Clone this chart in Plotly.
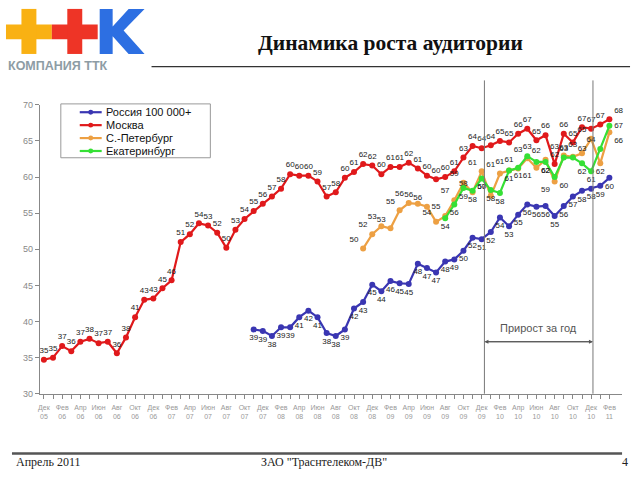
import plotly.graph_objects as go

# ---------------- data ----------------
month_names = ["Янв", "Фев", "Мар", "Апр", "Май", "Июн", "Июл", "Авг", "Сен", "Окт", "Ноя", "Дек"]
start_month = 11   # December (0-based)
start_year = 2005
n_months = 63      # Dec 05 .. Feb 11

moscow = [34.7, 35.0, 36.6, 35.9, 37.2, 37.6, 37.0, 37.2, 35.6, 37.8,
          40.6, 43.0, 43.2, 44.6, 45.7, 51.0, 52.1, 53.6, 53.3, 52.3,
          50.2, 52.7, 54.2, 55.3, 56.3, 57.3, 58.4, 60.4, 60.2, 60.2,
          59.4, 57.3, 57.9, 59.9, 60.7, 61.8, 61.6, 60.4, 61.4, 61.4,
          62.0, 61.2, 60.2, 59.7, 60.0, 60.8, 62.7, 64.3, 64.0, 64.4,
          65.0, 64.8, 66.0, 66.7, 65.1, 65.8, 61.8, 66.0, 64.8, 66.9,
          66.7, 67.3, 68.0]

russia_start = 23
russia = [38.9, 38.7, 38.0, 39.2, 39.2, 40.6, 41.5, 40.6, 38.4, 38.0,
          38.9, 41.8, 42.7, 45.1, 44.2, 45.6, 45.3, 45.2, 48.0, 47.4,
          46.8, 48.3, 48.6, 49.8, 51.6, 51.4, 52.4, 54.4, 53.2, 54.8,
          56.2, 55.9, 56.0, 54.6, 56.0, 57.3, 58.1, 58.4, 58.8, 59.9]

spb_start = 35
spb = [50.1, 52.1, 53.2, 52.9, 55.4, 56.4, 56.3, 55.9, 53.8, 54.6,
       56.8, 59.2, 57.9, 60.8, 57.4, 60.5, 60.9, 61.2, 62.6, 61.3,
       62.4, 59.4, 63.0, 62.8, 63.3, 65.3, 61.9, 66.2]

ekb_start = 44
ekb = [54.3, 56.2, 58.5, 58.1, 59.8, 58.2, 57.8, 60.9, 61.3, 62.9,
       62.1, 62.1, 60.0, 62.7, 62.7, 61.9, 60.8, 63.9, 67.1]

series_names = ["Россия 100 000+", "Москва", "С.-Петербург", "Екатеринбург"]
series_colors = ["#3a36b2", "#e0191b", "#eda043", "#35e035"]

year_marks = [48.3, 60.2]   # vertical "year" lines (month index)
year_label = "Прирост за год"

# ---------------- helpers ----------------
W, H = 640, 480
def px(x):
    return x / W
def py(y):
    return 1 - y / H

month_idx = list(range(n_months))
tick_text = []
for i in month_idx:
    m = (start_month + i) % 12
    yr = start_year + (start_month + i) // 12
    if i % 2 == 0:
        tick_text.append(f"{month_names[m]}<br>{yr % 100:02d}")
    else:
        tick_text.append("")

fig = go.Figure()

def add_series(name, color, start, vals, pos):
    xs = list(range(start, start + len(vals)))
    fig.add_trace(go.Scatter(
        x=xs, y=vals, mode="lines+markers+text", name=name,
        line=dict(color=color, width=2.2),
        marker=dict(color=color, size=6),
        text=vals, texttemplate="%{y:.0f}", textposition=pos,
        textfont=dict(family="Liberation Sans", size=8, color="#222"),
        cliponaxis=False, showlegend=False))

def positions(start, vals, default, special):
    return [special.get(start + i, default) for i in range(len(vals))]

msk_pos = positions(0, moscow, "top center", {62: "top right"})
spb_pos = positions(spb_start, spb, "top left",
                    {54: "bottom left", 56: "bottom left", 61: "bottom center", 62: "bottom right"})
ekb_pos = positions(ekb_start, ekb, "bottom center",
                    {53: "top center", 54: "bottom right", 56: "bottom right", 57: "top center",
                     58: "top right", 61: "top left", 62: "middle right"})

add_series(series_names[1], series_colors[1], 0, moscow, msk_pos)
add_series(series_names[2], series_colors[2], spb_start, spb, spb_pos)
add_series(series_names[3], series_colors[3], ekb_start, ekb, ekb_pos)
add_series(series_names[0], series_colors[0], russia_start, russia, "bottom center")

shapes = []
annotations = []

# year lines
for xm in year_marks:
    shapes.append(dict(type="line", xref="x", yref="paper", x0=xm, x1=xm,
                       y0=py(397), y1=py(77), line=dict(color="#777", width=1)))
arrow_y = 37.2
annotations.append(dict(x=year_marks[1], y=arrow_y, ax=year_marks[0], ay=arrow_y,
                        xref="x", yref="y", axref="x", ayref="y", text="",
                        showarrow=True, arrowhead=2, arrowsize=0.8, arrowwidth=1, arrowcolor="#555"))
annotations.append(dict(x=year_marks[0], y=arrow_y, ax=year_marks[1], ay=arrow_y,
                        xref="x", yref="y", axref="x", ayref="y", text="",
                        showarrow=True, arrowhead=2, arrowsize=0.8, arrowwidth=1, arrowcolor="#555"))
annotations.append(dict(x=(year_marks[0] + year_marks[1]) / 2, y=arrow_y + 1.9, xref="x", yref="y",
                        text=year_label, showarrow=False,
                        font=dict(family="Liberation Sans", size=11, color="#555")))

# custom legend
shapes.append(dict(type="rect", xref="paper", yref="paper", x0=px(59), x1=px(209), y0=py(156), y1=py(101),
                   line=dict(color="#999", width=1), fillcolor="white"))
legend_order = [0, 1, 2, 3]
for k, si in enumerate(legend_order):
    yy = 109.5 + k * 13.2
    shapes.append(dict(type="line", xref="paper", yref="paper", x0=px(78), x1=px(100), y0=py(yy), y1=py(yy),
                       line=dict(color=series_colors[si], width=2.2)))
    shapes.append(dict(type="circle", xref="paper", yref="paper", x0=px(86.5), x1=px(91.5),
                       y0=py(yy + 2.5), y1=py(yy - 2.5), fillcolor=series_colors[si],
                       line=dict(color=series_colors[si], width=0)))
    annotations.append(dict(x=px(102), y=py(yy), xref="paper", yref="paper", xanchor="left", yanchor="middle",
                            text=series_names[si], showarrow=False,
                            font=dict(family="Liberation Sans", size=11, color="#111")))

# header: logo
def rect(x0, y0, x1, y1, color):
    return dict(type="rect", xref="paper", yref="paper", x0=px(x0), x1=px(x1), y0=py(y1), y1=py(y0),
                fillcolor=color, line=dict(width=0))
for cx, col in [(27, "#f9b113"), (73, "#ee3426")]:
    shapes.append(rect(cx - 23, 20, cx + 23, 35, col))
    shapes.append(rect(cx - 7.5, 4, cx + 7.5, 50, col))
kpts = [(98, 4), (111, 4), (111, 22), (127, 4), (143, 4), (122, 26), (143, 50), (127, 50), (111, 32), (111, 50), (98, 50)]
kpath = "M " + " L ".join(f"{px(a):.5f},{py(b):.5f}" for a, b in kpts) + " Z"
shapes.append(dict(type="path", xref="paper", yref="paper", path=kpath, fillcolor="#2d6fe2", line=dict(width=0)))
annotations.append(dict(x=px(4), y=py(62), xref="paper", yref="paper", xanchor="left", yanchor="middle",
                        text="<b>КОМПАНИЯ ТТК</b>", showarrow=False,
                        font=dict(family="Liberation Sans", size=12.5, color="#8d9ca4")))
shapes.append(dict(type="line", xref="paper", yref="paper", x0=px(150), x1=px(630), y0=py(63), y1=py(63),
                   line=dict(color="#333", width=1.2)))
annotations.append(dict(x=px(390), y=py(39), xref="paper", yref="paper", xanchor="center", yanchor="middle",
                        text="<b>Динамика роста аудитории</b>", showarrow=False,
                        font=dict(family="Liberation Serif", size=21.5, color="#111")))

# footer
shapes.append(dict(type="line", xref="paper", yref="paper", x0=px(10), x1=px(622), y0=py(458), y1=py(458),
                   line=dict(color="#555", width=2.5)))
annotations.append(dict(x=px(12), y=py(467), xref="paper", yref="paper", xanchor="left", yanchor="middle",
                        text="Апрель 2011", showarrow=False,
                        font=dict(family="Liberation Serif", size=12, color="#222")))
annotations.append(dict(x=px(323), y=py(467), xref="paper", yref="paper", xanchor="center", yanchor="middle",
                        text="ЗАО \"Траснтелеком-ДВ\"", showarrow=False,
                        font=dict(family="Liberation Serif", size=12, color="#222")))
annotations.append(dict(x=px(625), y=py(467), xref="paper", yref="paper", xanchor="center", yanchor="middle",
                        text="4", showarrow=False,
                        font=dict(family="Liberation Serif", size=12, color="#222")))

fig.update_layout(
    width=W, height=H, margin=dict(l=0, r=0, t=0, b=0),
    paper_bgcolor="white", plot_bgcolor="white",
    shapes=shapes, annotations=annotations,
    xaxis=dict(domain=[px(38), px(622)], range=[-0.44, 63.39],
               tickmode="array", tickvals=month_idx, ticktext=tick_text,
               ticks="outside", ticklen=4, tickcolor="#888", tickangle=0, ticklabelstandoff=3,
               showline=True, linecolor="#888", linewidth=1, showgrid=False, zeroline=False,
               tickfont=dict(family="Liberation Sans", size=7, color="#999")),
    yaxis=dict(domain=[py(397), py(102)], range=[30, 70], tickvals=[30, 35, 40, 45, 50, 55, 60, 65, 70],
               ticks="outside", ticklen=4, tickcolor="#888",
               showline=True, linecolor="#888", linewidth=1, showgrid=False, zeroline=False,
               tickfont=dict(family="Liberation Sans", size=9, color="#888")),
)

fig.write_html("out.html")
